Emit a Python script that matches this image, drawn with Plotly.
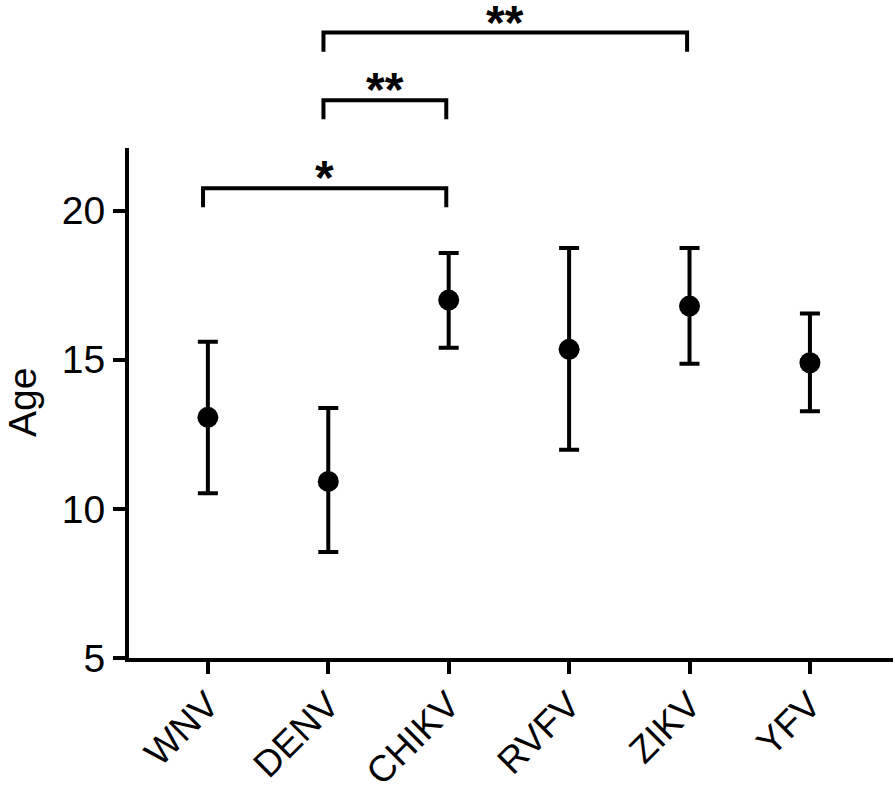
import plotly.graph_objects as go

# ---- data ----
categories = ["WNV", "DENV", "CHIKV", "RVFV", "ZIKV", "YFV"]
mean_age = [13.07, 10.92, 17.0, 15.35, 16.8, 14.9]
upper_ci = [15.6, 13.38, 18.58, 18.75, 18.75, 16.55]
lower_ci = [10.52, 8.55, 15.4, 11.98, 14.87, 13.27]

y_ticks = [5, 10, 15, 20]
y_range = [5, 22.1]

# significance brackets: (left group, right group, level in data units, label)
sig_left = ["WNV", "DENV", "DENV"]
sig_right = ["CHIKV", "CHIKV", "ZIKV"]
sig_level = [20.75, 23.7, 25.97]
sig_label = ["*", "**", "**"]
sig_drop = 0.64

FONT = "Liberation Sans, Arial, sans-serif"

err_plus = [u - m for u, m in zip(upper_ci, mean_age)]
err_minus = [m - l for m, l in zip(mean_age, lower_ci)]
xpos = list(range(len(categories)))

fig = go.Figure()
fig.add_trace(go.Scatter(
    x=xpos, y=mean_age, mode="markers",
    marker=dict(size=21, color="black", symbol="circle"),
    error_y=dict(type="data", array=err_plus, arrayminus=err_minus,
                 color="black", thickness=4, width=10, visible=True),
    showlegend=False, hoverinfo="skip",
))

def to_paper(v):
    return (v - y_range[0]) / (y_range[1] - y_range[0])

for a, b, lvl, lab in zip(sig_left, sig_right, sig_level, sig_label):
    x0 = categories.index(a) - 0.04
    x1 = categories.index(b) - 0.02
    ytop = to_paper(lvl)
    ybot = to_paper(lvl - sig_drop)
    fig.add_shape(type="path", xref="x", yref="paper",
                  path=f"M {x0} {ybot} L {x0} {ytop} L {x1} {ytop} L {x1} {ybot}",
                  line=dict(color="black", width=4))
    fig.add_annotation(x=(x0 + x1) / 2, y=ytop, xref="x", yref="paper",
                       text=f"<b>{lab}</b>", showarrow=False,
                       yanchor="bottom", xanchor="center", yshift=-18,
                       font=dict(family=FONT, size=48, color="black"))

fig.add_annotation(x=-0.14, y=0.5, xref="paper", yref="paper",
                   text="Age", textangle=-90, showarrow=False,
                   xanchor="center", yanchor="middle",
                   font=dict(family=FONT, size=39, color="black"))

fig.update_layout(
    width=895, height=787,
    margin=dict(l=129, r=2, t=148, b=129),
    paper_bgcolor="white", plot_bgcolor="white",
    font=dict(family=FONT, size=39, color="black"),
    xaxis=dict(
        range=[-0.655, 5.69], tickmode="array", tickvals=xpos, ticktext=categories,
        tickangle=-45, showline=True, linecolor="black", linewidth=4,
        ticks="outside", ticklen=12, tickwidth=4, tickcolor="black",
        showgrid=False, zeroline=False, tickfont=dict(size=37),
        automargin=False, ticklabelstandoff=-6,
    ),
    yaxis=dict(
        range=y_range, tickmode="array", tickvals=y_ticks,
        showline=True, linecolor="black", linewidth=4,
        ticks="outside", ticklen=12, tickwidth=4, tickcolor="black",
        showgrid=False, zeroline=False, tickfont=dict(size=39),
        automargin=False,
    ),
)

fig.write_html("out.html", config={"displayModeBar": False},
               post_script="document.body.style.margin='0px';")
